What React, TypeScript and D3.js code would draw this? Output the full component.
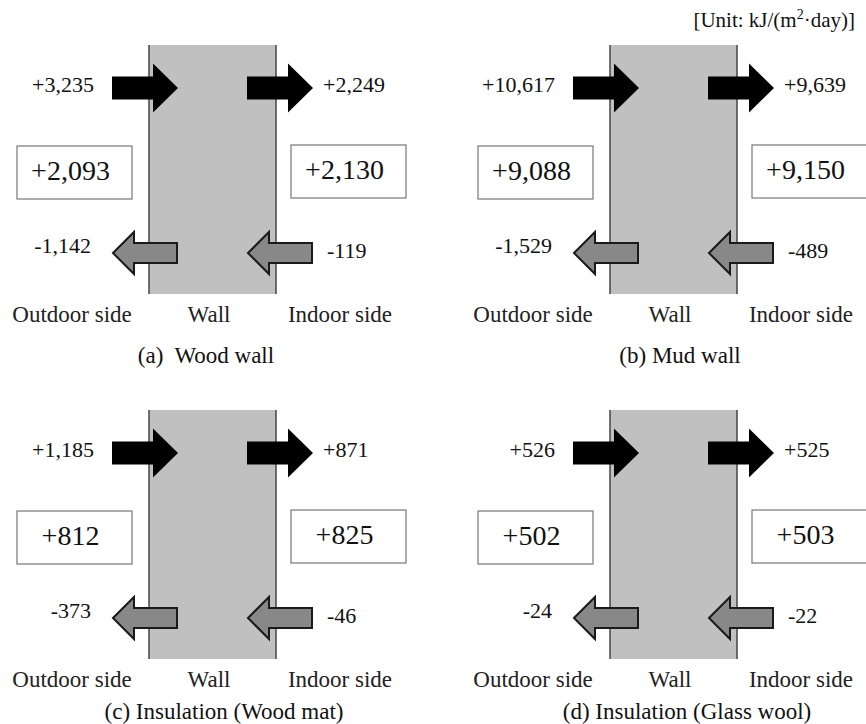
import React from "react";
import * as d3 from "d3";

const panelCaptions = ["(a)  Wood wall", "(b) Mud wall", "(c) Insulation (Wood mat)", "(d) Insulation (Glass wool)"];
const captionCenters = [206, 219, 224, 226];
const captionBaselines = [363, 363, 719, 719];
const outdoorGain = [3235, 10617, 1185, 526];
const indoorGain = [2249, 9639, 871, 525];
const outdoorLoss = [-1142, -1529, -373, -24];
const indoorLoss = [-119, -489, -46, -22];
const outdoorNet = [2093, 9088, 812, 502];
const indoorNet = [2130, 9150, 825, 503];
const sideLabels = ["Outdoor side", "Wall", "Indoor side"];
const unitLabel = "[Unit: kJ/(m";

const W = 866;
const H = 724;
const FONT = "Liberation Serif";

const fmt = d3.formatLocale({ decimal: ".", thousands: ",", grouping: [3], currency: ["", ""], minus: "-" }).format("+,");

// panel offsets
const colX = d3.scaleOrdinal<number, number>().domain([0, 1]).range([0, 461]);
const rowY = d3.scaleOrdinal<number, number>().domain([0, 1]).range([0, 365]);

// local geometry within a panel (panel a coordinates)
const wallL = 149, wallR = 276, wallT = 45, wallB = 294;
const topArrowY = 88, botArrowY = 253;

function rightArrow(x0: number, cy: number) {
  const bodyLen = 41, headLen = 25, bh = 11.5, hh = 24.5;
  const p = d3.path();
  p.moveTo(x0, cy - bh);
  p.lineTo(x0 + bodyLen, cy - bh);
  p.lineTo(x0 + bodyLen, cy - hh);
  p.lineTo(x0 + bodyLen + headLen, cy);
  p.lineTo(x0 + bodyLen, cy + hh);
  p.lineTo(x0 + bodyLen, cy + bh);
  p.lineTo(x0, cy + bh);
  p.closePath();
  return p.toString();
}

function leftArrow(tip: number, cy: number) {
  const headLen = 21, bodyLen = 43, bh = 10, hh = 21;
  const p = d3.path();
  p.moveTo(tip, cy);
  p.lineTo(tip + headLen, cy - hh);
  p.lineTo(tip + headLen, cy - bh);
  p.lineTo(tip + headLen + bodyLen, cy - bh);
  p.lineTo(tip + headLen + bodyLen, cy + bh);
  p.lineTo(tip + headLen, cy + bh);
  p.lineTo(tip + headLen, cy + hh);
  p.closePath();
  return p.toString();
}

const txt = { fontFamily: FONT, whiteSpace: "pre" as const };

function Panel({ i }: { i: number }) {
  const dx = colX(i % 2);
  const dy = rowY(Math.floor(i / 2));
  const boxes = [
    { x: 17, y: 146, w: 115, h: 53, v: outdoorNet[i] },
    { x: 291, y: 145, w: 115, h: 53, v: indoorNet[i] },
  ];
  return (
    <g transform={`translate(${dx},${dy})`}>
      <rect x={wallL} y={wallT} width={wallR - wallL} height={wallB - wallT} fill="#c0c0c0" />
      <line x1={wallL} x2={wallL} y1={wallT} y2={wallB} stroke="#444" strokeWidth={1.5} />
      <line x1={wallR} x2={wallR} y1={wallT} y2={wallB} stroke="#444" strokeWidth={1.5} />
      <path d={rightArrow(112, topArrowY)} fill="#000" />
      <path d={rightArrow(247, topArrowY)} fill="#000" />
      <path d={leftArrow(113, botArrowY)} fill="#888" stroke="#1a1a1a" strokeWidth={2} strokeLinejoin="miter" />
      <path d={leftArrow(248, botArrowY)} fill="#888" stroke="#1a1a1a" strokeWidth={2} strokeLinejoin="miter" />
      {boxes.map((b, k) => (
        <g key={k}>
          <rect x={b.x} y={b.y} width={b.w} height={b.h} fill="#fff" stroke="#777" strokeWidth={1.2} />
          <text x={b.x + b.w / 2 - 4} y={b.y + 34} textAnchor="middle" fontSize={28} fill="#111" style={txt}>{fmt(b.v)}</text>
        </g>
      ))}
      <text x={94} y={topArrowY + 4} textAnchor="end" fontSize={22} fill="#111" style={txt}>{fmt(outdoorGain[i])}</text>
      <text x={323} y={topArrowY + 4} textAnchor="start" fontSize={22} fill="#111" style={txt}>{fmt(indoorGain[i])}</text>
      <text x={91} y={botArrowY} textAnchor="end" fontSize={22} fill="#111" style={txt}>{fmt(outdoorLoss[i])}</text>
      <text x={327} y={botArrowY + 5} textAnchor="start" fontSize={22} fill="#111" style={txt}>{fmt(indoorLoss[i])}</text>
      <text x={72} y={322} textAnchor="middle" fontSize={23} fill="#222" style={txt}>{sideLabels[0]}</text>
      <text x={209} y={322} textAnchor="middle" fontSize={23} fill="#222" style={txt}>{sideLabels[1]}</text>
      <text x={340} y={322} textAnchor="middle" fontSize={23} fill="#222" style={txt}>{sideLabels[2]}</text>
      <text x={captionCenters[i]} y={captionBaselines[i] - dy} textAnchor="middle" fontSize={23} fill="#111" style={txt}>{panelCaptions[i]}</text>
    </g>
  );
}

export default function App() {
  return (
    <svg width={W} height={H} style={{ position: "absolute", left: 0, top: 0, background: "#fff" }}>
      <rect width={W} height={H} fill="#fff" />
      {[0, 1, 2, 3].map((i) => <Panel key={i} i={i} />)}
      <text x={855} y={27} textAnchor="end" fontSize={21} fill="#111" style={txt}>
        {unitLabel}
        <tspan fontSize={14} dy={-8}>2</tspan>
        <tspan dy={8}>·day)]</tspan>
      </text>
    </svg>
  );
}
